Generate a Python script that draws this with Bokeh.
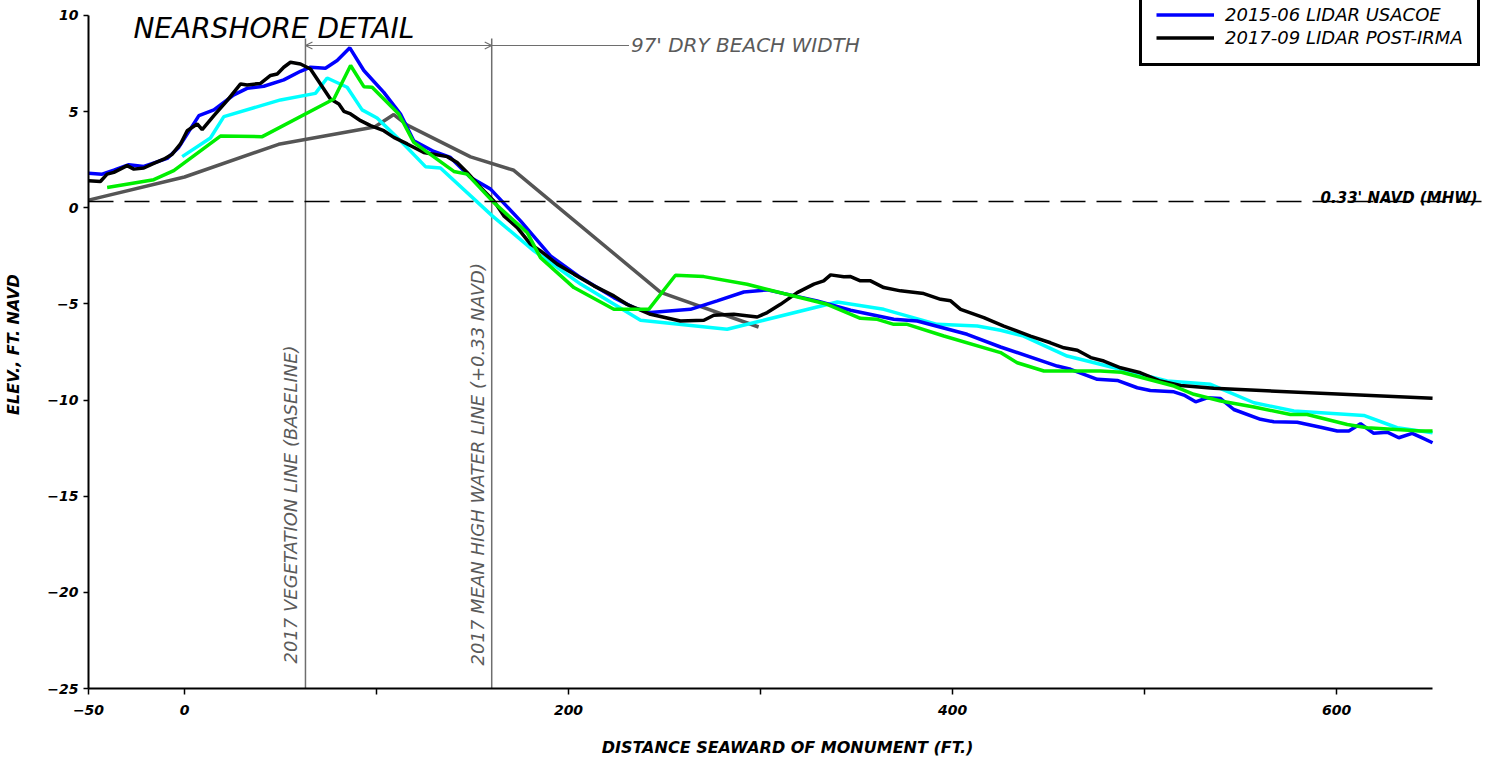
import math
from bokeh.plotting import figure
from bokeh.models import (Range1d, FixedTicker, Span, Arrow, OpenHead, Legend,
                          LegendItem)
from bokeh.core.properties import value
from bokeh.embed import file_html
from bokeh.resources import INLINE

# ---------------- data (distance seaward of monument, ft ; elevation, ft NAVD) ---------
dist_gray = [-50, 0, 49, 99, 109, 116, 149, 171.5, 248, 299]
elev_gray = [0.4, 1.6, 3.3, 4.2, 4.85, 4.3, 2.65, 1.95, -4.4, -6.2]

dist_green = [-40.3, -16, -5.6, 18.7, 40.5, 77.8, 86.5, 93.4, 97.7, 111.6, 119.4, 140.3,
              147.2, 161, 178.5, 185.4, 202.8, 223.6, 241.8, 255.7, 270.5, 293, 312,
              334.7, 352, 360.8, 369.4, 376.4, 395.5, 425, 433.7, 447.6, 456, 477,
              488, 515.3, 525.7, 539.6, 557, 576, 584.7, 605.6, 616, 643.8, 650]
elev_green = [1.06, 1.46, 1.93, 3.73, 3.7, 5.66, 7.4, 6.3, 6.27, 4.88, 3.4, 1.89,
              1.75, 0.28, -1.29, -2.59, -4.15, -5.28, -5.28, -3.51, -3.58, -3.98, -4.46,
              -5.02, -5.75, -5.8, -6.06, -6.06, -6.67, -7.53, -8.06, -8.49, -8.49, -8.49,
              -8.55, -9.27, -9.7, -10.05, -10.36, -10.75, -10.75, -11.27, -11.44, -11.61, -11.61]

dist_cyan = [-1.2, 13.5, 20.5, 50, 68.2, 74.3, 84.7, 92.5, 100.3, 112.5, 125.5, 133.3,
             160.3, 182, 206.3, 237.5, 282.6, 300, 340, 364.2, 392, 412.9, 425, 437,
             459.7, 477, 494.4, 511.8, 534.4, 557, 577.8, 614.2, 631.6, 650]
elev_cyan = [2.66, 3.63, 4.74, 5.61, 5.95, 6.75, 6.27, 5.09, 4.67, 3.49, 2.14, 2.07,
             -0.42, -2.24, -3.97, -5.85, -6.32, -5.89, -4.9, -5.28, -6.06, -6.15, -6.37, -6.67,
             -7.71, -8.14, -8.58, -9.01, -9.18, -10.14, -10.57, -10.8, -11.44, -11.7]

dist_blue = [-50, -42.9, -36.8, -29, -21.2, -9, -3, 7.5, 15.3, 25.7, 32.6, 41.3, 51.7,
             60.4, 65.6, 73.4, 79.5, 86.1, 93.4, 103.8, 112.5, 119.4, 129.9, 138.5, 149,
             159.4, 175, 190.6, 206.3, 223.6, 234, 242.7, 263.5, 277.4, 291.3, 303.5,
             329.5, 346.9, 369.4, 381.6, 407.6, 425, 454.5, 461.5, 475.4, 485.8, 496.2,
             503, 515.3, 520.5, 526.6, 532.7, 539.6, 546.5, 560.4, 567.3, 579.5, 591.7,
             600.4, 606.4, 612.5, 619.4, 626.4, 632.4, 639.4, 643.8, 650]
elev_blue = [1.79, 1.75, 1.96, 2.24, 2.15, 2.57, 3.14, 4.79, 5.09, 5.87, 6.21, 6.32, 6.65,
             7.1, 7.31, 7.26, 7.66, 8.32, 7.14, 6.0, 4.88, 3.49, 2.93, 2.62, 1.58,
             0.97, -0.68, -2.5, -3.63, -4.67, -5.19, -5.45, -5.28, -4.84, -4.38, -4.27,
             -4.84, -5.33, -5.8, -5.89, -6.58, -7.24, -8.23, -8.4, -8.92, -8.98, -9.36,
             -9.5, -9.57, -9.74, -10.09, -9.88, -9.92, -10.49, -11.0, -11.13, -11.15, -11.41,
             -11.61, -11.61, -11.23, -11.73, -11.67, -11.96, -11.73, -11.93, -12.22]

dist_black = [-50, -43.8, -40.3, -36.8, -29.9, -26.4, -21.2, -16, -10.8, -6.4, -2.1, 1.4,
              6.6, 9.2, 15.3, 22.2, 29.2, 32.6, 39.6, 44.8, 48.3, 51.7, 55.2, 60.4, 65.6,
              70.8, 76, 80.4, 83, 86.5, 91.7, 96.9, 103.8, 109, 116, 124.6, 136.8, 142,
              147.2, 154.2, 161.1, 166.3, 173.3, 180.2, 185.4, 194.1, 202.8, 213.2, 223.6,
              230.6, 242.7, 258.3, 270.5, 275.7, 286.1, 298.3, 303.5, 310.4, 319.1, 327.8,
              332.9, 336.5, 343.4, 346.9, 352, 357.3, 364.2, 372.9, 385, 393.8, 399, 404.2,
              416.3, 426.7, 440.6, 451, 458, 465, 472, 478.8, 487.5, 497.9, 508.3, 518.8,
              536, 650]
elev_black = [1.41, 1.37, 1.75, 1.84, 2.19, 2.01, 2.07, 2.31, 2.53, 2.79, 3.32, 4.01,
              4.36, 4.06, 4.79, 5.57, 6.44, 6.39, 6.47, 6.88, 6.96, 7.31, 7.57, 7.48, 7.22,
              6.44, 5.66, 5.4, 5.02, 4.88, 4.53, 4.27, 4.01, 3.66, 3.32, 2.88, 2.66, 2.36,
              1.84, 1.06, 0.36, -0.42, -1.03, -1.89, -2.24, -2.93, -3.45, -4.06, -4.58,
              -5.03, -5.54, -5.89, -5.85, -5.59, -5.54, -5.68, -5.45, -5.02, -4.41, -3.97,
              -3.8, -3.49, -3.59, -3.58, -3.8, -3.8, -4.15, -4.32, -4.46, -4.76, -4.84, -5.28,
              -5.71, -6.15, -6.67, -7.02, -7.28, -7.41, -7.79, -7.97, -8.32, -8.58, -9.01, -9.24,
              -9.39, -9.91]

legend_labels = ["2015-06 LIDAR USACOE", "2017-09 LIDAR POST-IRMA"]

x_ticks = [-50, 0, 100, 200, 300, 400, 500, 600]
x_unlabelled = [100, 300, 500]
y_ticks = [-25, -20, -15, -10, -5, 0, 5, 10]

mhw_elev = 0.33          # ft NAVD
veg_line_x = 63          # 2017 vegetation line (baseline)
dry_beach_width = 97     # ft
mhw_line_x = veg_line_x + dry_beach_width

# ---------------- figure ---------------------------------------------------------------
FONT_NAME = "DejaVu Sans"
FONT = value(FONT_NAME)
GRAY_TXT = "#5a5a5a"
GRAY_LN = "#6e6e6e"

p = figure(width=1486, height=765, output_backend="svg", toolbar_location=None,
           x_range=Range1d(-50, 678.1), y_range=Range1d(-25, 10.78),
           min_border_left=88, min_border_right=0, min_border_top=0,
           min_border_bottom=77)
p.outline_line_color = None
p.grid.visible = False
p.background_fill_color = "white"

for ax in (p.xaxis[0], p.yaxis[0]):
    ax.axis_line_color = "black"
    ax.axis_line_width = 2
    ax.major_tick_line_color = "black"
    ax.major_tick_line_width = 1.5
    ax.major_tick_in = 0
    ax.minor_tick_line_color = None
    ax.major_label_text_font = FONT_NAME
    ax.major_label_text_font_style = "bold italic"
    ax.major_label_text_font_size = "14px"
    ax.major_label_text_color = "black"
    ax.axis_label_text_font = FONT_NAME
    ax.axis_label_text_font_style = "bold italic"
    ax.axis_label_text_font_size = "16px"
    ax.axis_label_text_color = "black"

xa = p.xaxis[0]
xa.ticker = FixedTicker(ticks=x_ticks)
xa.major_label_overrides = {t: "" for t in x_unlabelled}
xa.bounds = (-50, 650)
xa.major_tick_out = 6
xa.major_label_standoff = 10
xa.axis_label = "DISTANCE SEAWARD OF MONUMENT (FT.)"
xa.axis_label_standoff = 20

ya = p.yaxis[0]
ya.ticker = FixedTicker(ticks=y_ticks)
ya.bounds = (-25, 10)
ya.major_tick_out = 5
ya.major_label_standoff = 5
ya.axis_label = "ELEV., FT. NAVD"
ya.axis_label_standoff = 21

# ---------------- reference lines & annotations -----------------------------------------
p.add_layout(Span(location=mhw_elev, dimension="width", line_color="black",
                  line_width=1.5, line_dash="25 11"))

p.segment(x0=[veg_line_x, mhw_line_x], y0=[8.8, 8.8], x1=[veg_line_x, mhw_line_x],
          y1=[-25, -25], line_color=GRAY_LN, line_width=1.5)

p.add_layout(Arrow(x_start=veg_line_x, y_start=8.44, x_end=mhw_line_x, y_end=8.44,
                   line_color=GRAY_LN, line_width=1.2,
                   start=OpenHead(size=7, line_color=GRAY_LN, line_width=1.2),
                   end=OpenHead(size=7, line_color=GRAY_LN, line_width=1.2)))
p.segment(x0=[mhw_line_x], y0=[8.44], x1=[231.5], y1=[8.44], line_color=GRAY_LN,
          line_width=1.2)

p.text(x=[232.5], y=[8.44], text=[f"{dry_beach_width}' DRY BEACH WIDTH"],
       text_font=FONT, text_font_style="italic", text_font_size="20px",
       text_color=GRAY_TXT, text_baseline="middle", text_align="left")

p.text(x=[veg_line_x, mhw_line_x], y=[-23.7, -23.8],
       text=["2017 VEGETATION LINE (BASELINE)", "2017 MEAN HIGH WATER LINE (+0.33 NAVD)"],
       angle=math.pi / 2, x_offset=-4, text_font=FONT, text_font_style="italic",
       text_font_size="18px", text_color=GRAY_TXT, text_baseline="bottom",
       text_align="left")

p.text(x=[-26.6], y=[9.32], text=["NEARSHORE DETAIL"], text_font=FONT,
       text_font_style="italic", text_font_size="28px", text_color="black",
       text_baseline="alphabetic", text_align="left")

p.text(x=[591.7], y=[0.52], text=["0.33' NAVD (MHW)"], text_font=FONT,
       text_font_style="bold italic", text_font_size="15px", text_color="black",
       text_baseline="alphabetic", text_align="left")

# ---------------- profiles ----------------------------------------------------------------
LW = 3.5
p.line(dist_gray, elev_gray, line_color="#555555", line_width=LW)
p.line(dist_cyan, elev_cyan, line_color="#00ffff", line_width=LW)
r_blue = p.line(dist_blue, elev_blue, line_color="#0000ff", line_width=LW)
r_black = p.line(dist_black, elev_black, line_color="black", line_width=LW)
p.line(dist_green, elev_green, line_color="#00ee00", line_width=LW)

legend = Legend(items=[LegendItem(label=legend_labels[0], renderers=[r_blue]),
                       LegendItem(label=legend_labels[1], renderers=[r_black])],
                location=(1051, 622), margin=0, padding=14, spacing=0,
                glyph_width=58, glyph_height=23, label_height=23, label_standoff=11,
                label_text_font=FONT_NAME, label_text_font_style="italic",
                label_text_font_size="18px", label_text_color="black",
                border_line_color="black", border_line_width=3, border_line_alpha=1.0,
                background_fill_color="white", background_fill_alpha=1.0)
p.add_layout(legend)

open("out.html", "w").write(file_html(p, INLINE))
